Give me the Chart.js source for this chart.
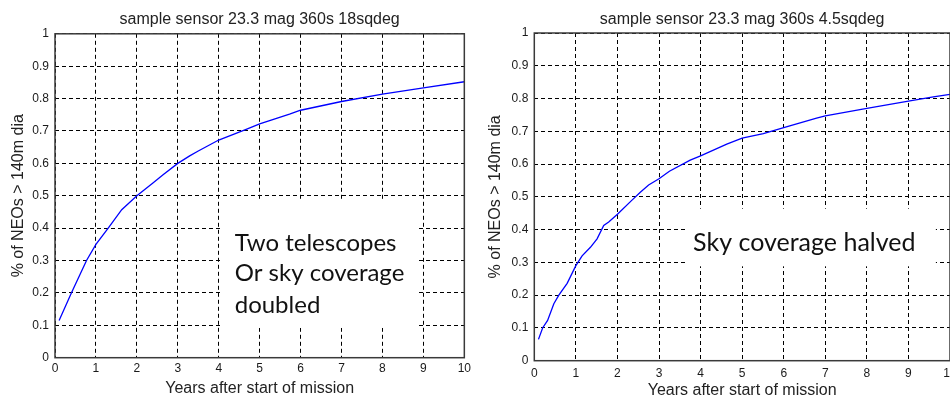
<!DOCTYPE html>
<html>
<head>
<meta charset="utf-8">
<script src="https://cdn.jsdelivr.net/npm/chart.js@4.4.1/dist/chart.umd.min.js"></script>
<style>
  html, body { margin: 0; padding: 0; background: #fff; overflow: hidden; width: 950px; height: 401px; }
  canvas { position: absolute; top: 0; }
  #leftChart { left: 0; }
  #rightChart { left: 475px; }
</style>
</head>
<body>
<canvas id="leftChart" width="475" height="401"></canvas>
<canvas id="rightChart" width="500" height="401"></canvas>
<script>
// tick labels
const xTickLabels = ['0', '1', '2', '3', '4', '5', '6', '7', '8', '9', '10'];
const yTickLabels = ['0', '0.1', '0.2', '0.3', '0.4', '0.5', '0.6', '0.7', '0.8', '0.9', '1'];

// left panel: 18 sq deg
const years18 = [0.1, 0.4, 0.77, 1, 1.3, 1.63, 2, 2.4, 2.64, 3, 3.29, 3.5, 4, 4.67, 5, 5.73, 6, 7, 8, 9, 10];
const found18 = [0.115, 0.2, 0.3, 0.35, 0.4, 0.457, 0.5, 0.54, 0.565, 0.6, 0.623, 0.638, 0.672, 0.705, 0.722, 0.752, 0.764, 0.791, 0.814, 0.833, 0.852];

// right panel: 4.5 sq deg
const years45 = [0.1, 0.2, 0.32, 0.47, 0.59, 0.79, 1, 1.15, 1.35, 1.51, 1.67, 1.79, 2, 2.35, 2.55, 2.75, 3, 3.25, 3.75, 4, 4.63, 5, 5.51, 6, 6.79, 7, 8, 9, 9.6, 10];
const found45 = [0.065, 0.1, 0.123, 0.174, 0.2, 0.236, 0.29, 0.32, 0.346, 0.372, 0.413, 0.423, 0.447, 0.49, 0.514, 0.536, 0.555, 0.578, 0.612, 0.625, 0.661, 0.679, 0.693, 0.711, 0.74, 0.747, 0.77, 0.792, 0.805, 0.813];

const titles = ['sample sensor 23.3 mag 360s 18sqdeg', 'sample sensor 23.3 mag 360s 4.5sqdeg'];
const xTitle = 'Years after start of mission';
const yTitle = '% of NEOs > 140m dia';
const notes18 = ['Two telescopes', 'Or sky coverage', 'doubled'];
const notes45 = ['Sky coverage halved'];

const frame = {
  id: 'frame',
  afterDatasetsDraw(chart) {
    const a = chart.chartArea, ctx = chart.ctx;
    ctx.save();
    ctx.strokeStyle = '#3a3a3a';
    ctx.lineWidth = 1.5;
    ctx.strokeRect(a.left, a.top, a.right - a.left, a.bottom - a.top);
    ctx.restore();
  }
};

// white text box over the grid, placed in data units
const noteBox = {
  id: 'noteBox',
  beforeDatasetsDraw(chart, args, opts) {
    const x = chart.scales.x, y = chart.scales.y, ctx = chart.ctx;
    const x0 = x.getPixelForValue(opts.box[0]), x1 = x.getPixelForValue(opts.box[1]);
    const y0 = y.getPixelForValue(opts.box[3]), y1 = y.getPixelForValue(opts.box[2]);
    ctx.save();
    ctx.fillStyle = '#fff';
    ctx.fillRect(x0, y0, x1 - x0, y1 - y0);
    ctx.fillStyle = '#111';
    ctx.font = opts.size + 'px Lato';
    ctx.textBaseline = 'alphabetic';
    opts.lines.forEach((t, i) => {
      ctx.fillText(t, x.getPixelForValue(opts.textX), y.getPixelForValue(opts.baselines[i]));
    });
    ctx.restore();
  }
};

function makeChart(id, p) {
  return new Chart(document.getElementById(id), {
    type: 'line',
    data: {
      datasets: [{
        data: p.xs.map((v, i) => ({ x: v, y: p.ys[i] })),
        borderColor: '#0000ff',
        borderWidth: 1.3,
        pointRadius: 0,
        tension: 0,
        fill: false
      }]
    },
    plugins: [noteBox, frame],
    options: {
      responsive: false,
      animation: false,
      layout: { padding: { left: 0, right: p.padRight, top: 0, bottom: 0 } },
      plugins: {
        legend: { display: false },
        tooltip: { enabled: false },
        title: {
          display: true,
          text: p.title,
          fullSize: false,
          color: '#222',
          font: { family: 'Arial, "Liberation Sans"', size: 16, weight: 'normal' },
          padding: { top: p.titleTop, bottom: p.titleBottom }
        },
        noteBox: p.note
      },
      scales: {
        x: {
          type: 'linear',
          min: 0,
          max: 10,
          afterFit: s => { s.height = p.xAxisHeight; },
          grid: { color: '#000', lineWidth: 1, drawTicks: false },
          border: { display: false, dash: [4, 3] },
          ticks: {
            stepSize: 1,
            padding: p.xTickPad,
            color: '#1a1a1a',
            font: { family: 'Arial, "Liberation Sans"', size: 12 },
            maxRotation: 0,
            callback: (v, i) => xTickLabels[i]
          },
          title: {
            display: true,
            text: xTitle,
            color: '#222',
            font: { family: 'Arial, "Liberation Sans"', size: 16 },
            padding: { top: 0, bottom: p.xTitlePad }
          }
        },
        y: {
          min: 0,
          max: 1,
          afterFit: s => { s.width = p.yAxisWidth; },
          grid: { color: '#000', lineWidth: 1, drawTicks: false },
          border: { display: false, dash: [4, 3] },
          ticks: {
            stepSize: 0.1,
            padding: 6,
            color: '#1a1a1a',
            font: { family: 'Arial, "Liberation Sans"', size: 12 },
            callback: (v, i) => yTickLabels[i]
          },
          title: {
            display: true,
            text: yTitle,
            color: '#222',
            font: { family: 'Arial, "Liberation Sans"', size: 16 },
            padding: { top: p.yTitlePad, bottom: 0 }
          }
        }
      }
    }
  });
}

makeChart('leftChart', {
  title: titles[0], xs: years18, ys: found18,
  padRight: 10, titleTop: 10.4, titleBottom: 4.2,
  xAxisHeight: 43.3, yAxisWidth: 55, xTickPad: 4, xTitlePad: 3, yTitlePad: 9.4,
  note: { box: [4.07, 8.82, 0.092, 0.49], textX: 4.39, baselines: [0.329, 0.236, 0.139], lines: notes18, size: 24 }
});

makeChart('rightChart', {
  title: titles[1], xs: years45, ys: found45,
  padRight: 25, titleTop: 9.6, titleBottom: 4.2,
  xAxisHeight: 40.3, yAxisWidth: 59.3, xTickPad: 6, xTitlePad: 0.4, yTitlePad: 11.4,
  note: { box: [3.65, 9.66, 0.288, 0.464], textX: 3.82, baselines: [0.334], lines: notes45, size: 25 }
});
</script>
</body>
</html>
